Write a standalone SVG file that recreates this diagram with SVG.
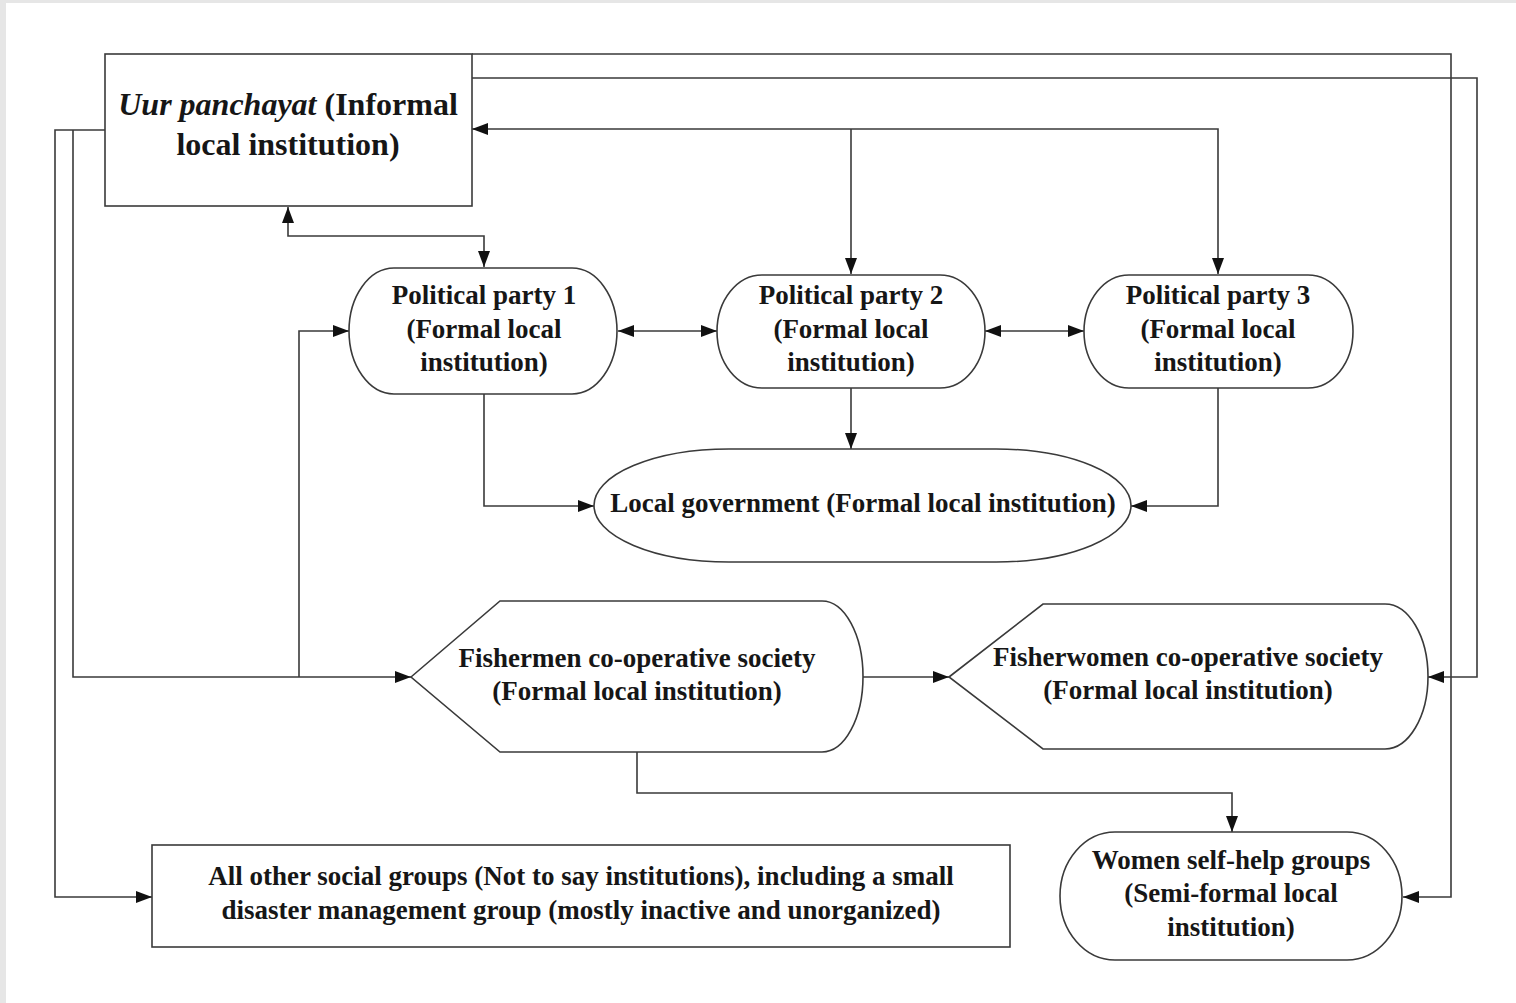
<svg xmlns="http://www.w3.org/2000/svg" width="1516" height="1003" viewBox="0 0 1516 1003">
  <defs>
    <marker id="arrow" markerUnits="userSpaceOnUse" markerWidth="16" markerHeight="12" refX="16" refY="6" orient="auto-start-reverse">
      <path d="M0,0 L16,6 L0,12 Z" fill="#111"/>
    </marker>
    <style>
      .node { fill: #fff; stroke: #3a3a3a; stroke-width: 1.6; }
      .wire { fill: none; stroke: #3a3a3a; stroke-width: 1.6; }
      .end { marker-end: url(#arrow); }
      .both { marker-start: url(#arrow); marker-end: url(#arrow); }
      text { font-family: "Liberation Serif", "Times New Roman", serif; font-weight: bold; fill: #161616; text-anchor: middle; font-size: 27px; }
      .big { font-size: 32px; }
    </style>
  </defs>

  <!-- page -->
  <rect x="0" y="0" width="1516" height="1003" fill="#fff"/>
  <rect x="0" y="0" width="6" height="1003" fill="#e6e6e6"/>
  <rect x="0" y="0" width="1516" height="3" fill="#e6e6e6"/>

  <!-- connectors -->
  <g id="connectors">
    <!-- Uur panchayat fan-out to the right -->
    <path class="wire end" d="M472,54 H1451 V897 H1403"/>
    <path class="wire end" d="M472,78 H1477 V677 H1428"/>
    <!-- Uur panchayat <-> political parties 2 and 3 -->
    <path class="wire both" d="M472,129 H1218 V274"/>
    <path class="wire end" d="M851,129 V274"/>
    <!-- Uur panchayat <-> political party 1 -->
    <path class="wire both" d="M288,207 V236 H484 V267"/>
    <!-- Uur panchayat fan-out to the left -->
    <path class="wire end" d="M105,130 H55 V897 H152"/>
    <path class="wire end" d="M73,130 V677 H411"/>
    <path class="wire end" d="M299,677 V331 H349"/>
    <!-- between the parties -->
    <path class="wire both" d="M618,331 H717"/>
    <path class="wire both" d="M985,331 H1084"/>
    <!-- parties to local government -->
    <path class="wire end" d="M484,394 V506 H594"/>
    <path class="wire end" d="M851,388 V449"/>
    <path class="wire end" d="M1218,388 V506 H1131"/>
    <!-- co-operative societies -->
    <path class="wire end" d="M863,677 H949"/>
    <path class="wire end" d="M637,752 V793 H1232 V832"/>
  </g>

  <!-- nodes -->
  <g id="uur-panchayat">
    <rect class="node" x="105" y="54" width="367" height="152"/>
    <text class="big" x="288" y="115"><tspan font-style="italic">Uur panchayat</tspan> (Informal</text>
    <text class="big" x="288" y="155">local institution)</text>
  </g>

  <g id="political-party-1">
    <rect class="node" x="349" y="268" width="268" height="126" rx="45" ry="63"/>
    <text x="484" y="304">Political party 1</text>
    <text x="484" y="338">(Formal local</text>
    <text x="484" y="371">institution)</text>
  </g>

  <g id="political-party-2">
    <rect class="node" x="717" y="275" width="268" height="113" rx="45" ry="56.5"/>
    <text x="851" y="304">Political party 2</text>
    <text x="851" y="338">(Formal local</text>
    <text x="851" y="371">institution)</text>
  </g>

  <g id="political-party-3">
    <rect class="node" x="1084" y="275" width="269" height="113" rx="45" ry="56.5"/>
    <text x="1218" y="304">Political party 3</text>
    <text x="1218" y="338">(Formal local</text>
    <text x="1218" y="371">institution)</text>
  </g>

  <g id="local-government">
    <rect class="node" x="594" y="449" width="537" height="113" rx="135" ry="56.5"/>
    <text x="863" y="512">Local government (Formal local institution)</text>
  </g>

  <g id="fishermen-society">
    <path class="node" d="M411,677 L500,601 H822 A41,75.5 0 0 1 822,752 H500 Z"/>
    <text x="637" y="667">Fishermen co-operative society</text>
    <text x="637" y="700">(Formal local institution)</text>
  </g>

  <g id="fisherwomen-society">
    <path class="node" d="M949,677 L1043,604 H1385 A43,72.5 0 0 1 1385,749 H1043 Z"/>
    <text x="1188" y="666">Fisherwomen co-operative society</text>
    <text x="1188" y="699">(Formal local institution)</text>
  </g>

  <g id="women-self-help-groups">
    <rect class="node" x="1060" y="832" width="342" height="128" rx="55" ry="64"/>
    <text x="1231" y="869">Women self-help groups</text>
    <text x="1231" y="902">(Semi-formal local</text>
    <text x="1231" y="936">institution)</text>
  </g>

  <g id="other-social-groups">
    <rect class="node" x="152" y="845" width="858" height="102"/>
    <text x="581" y="885">All other social groups (Not to say institutions), including a small</text>
    <text x="581" y="919">disaster management group (mostly inactive and unorganized)</text>
  </g>
</svg>
